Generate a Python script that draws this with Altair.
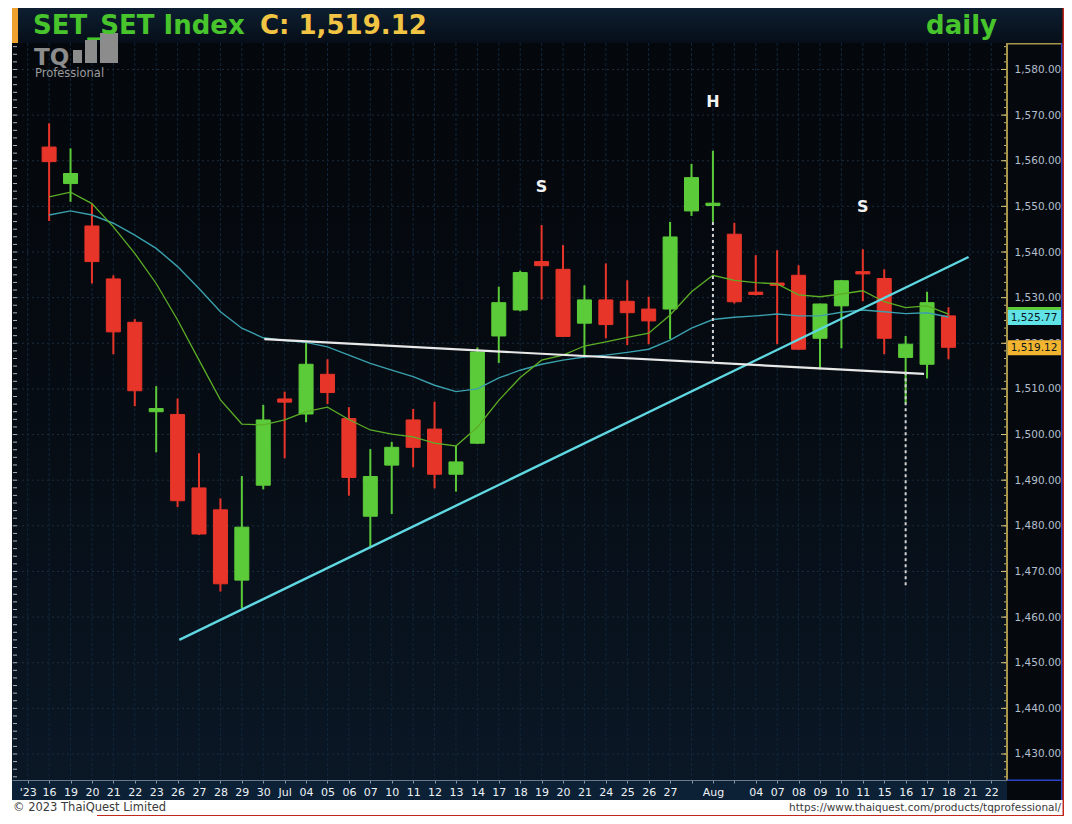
import json
import altair as alt
import pandas as pd

# ---------------- data ----------------
slot_labels = ["'23", "16", "19", "20", "21", "22", "23", "26", "27", "28", "29", "30",
               "Jul", "04", "05", "06", "07", "10", "11", "12", "13", "14", "17", "18",
               "19", "20", "21", "24", "25", "26", "27", "", "Aug", "", "04", "07", "08",
               "09", "10", "11", "15", "16", "17", "18", "21", "22"]
candle_slot = list(range(1, 44))
opens = [1563.0, 1555.0, 1545.7, 1534.1, 1524.6, 1505.0, 1504.4, 1488.3, 1483.5, 1468.1,
         1488.9, 1507.8, 1504.5, 1513.2, 1503.5, 1482.1, 1493.3, 1503.2, 1501.2, 1491.3,
         1498.1, 1521.6, 1527.3, 1537.9, 1536.2, 1524.4, 1529.5, 1529.2, 1527.5, 1527.5,
         1549.0, 1550.2, 1543.9, 1531.2, 1533.2, 1534.9, 1521.1, 1528.2, 1535.7, 1534.2,
         1516.9, 1515.4, 1526.0]
highs = [1568.2, 1562.7, 1550.6, 1534.9, 1525.3, 1510.6, 1507.9, 1495.9, 1486.0, 1490.9,
         1506.5, 1509.4, 1520.3, 1516.5, 1506.0, 1496.8, 1498.4, 1505.6, 1507.2, 1497.5,
         1519.1, 1532.4, 1535.9, 1545.9, 1541.5, 1532.7, 1537.5, 1533.8, 1530.2, 1546.6,
         1559.3, 1562.2, 1546.4, 1539.3, 1540.4, 1537.1, 1528.7, 1533.8, 1540.6, 1536.2,
         1521.6, 1531.3, 1527.9]
lows = [1546.8, 1551.0, 1533.1, 1517.6, 1506.2, 1496.1, 1484.1, 1478.0, 1465.6, 1461.9,
        1488.0, 1494.8, 1502.7, 1506.7, 1486.6, 1475.3, 1482.6, 1492.8, 1488.2, 1487.5,
        1498.0, 1515.7, 1527.0, 1529.6, 1521.4, 1516.9, 1521.1, 1519.6, 1519.8, 1520.9,
        1547.9, 1546.6, 1528.7, 1530.5, 1519.8, 1518.6, 1514.3, 1518.9, 1529.2, 1517.6,
        1506.8, 1512.3, 1516.5]
closes = [1559.8, 1557.2, 1537.9, 1522.5, 1509.6, 1505.7, 1485.5, 1478.2, 1467.3, 1479.7,
          1503.2, 1507.1, 1515.4, 1509.2, 1490.6, 1490.8, 1497.2, 1497.2, 1491.3, 1494.0,
          1518.1, 1528.9, 1535.5, 1537.0, 1521.5, 1529.5, 1524.1, 1526.7, 1524.9, 1543.3,
          1556.3, 1550.7, 1529.1, 1530.7, 1532.7, 1518.7, 1528.6, 1533.7, 1535.2, 1521.1,
          1519.8, 1528.9, 1519.12]
ma_fast = [1552.1, 1553.1, 1550.6, 1545.5, 1539.7, 1533.1, 1525.1, 1516.3, 1507.6, 1502.3,
           1502.1, 1503.2, 1505.0, 1506.0, 1503.3, 1501.0, 1500.1, 1499.5, 1498.1, 1497.5,
           1501.6, 1507.5, 1512.5, 1516.3, 1517.4, 1519.4, 1520.3, 1521.3, 1522.2, 1526.2,
           1531.3, 1534.9, 1533.8, 1533.3, 1533.0, 1530.6, 1530.2, 1530.8, 1531.5, 1529.1,
           1527.8, 1528.2, 1526.4]
ma_slow = [1548.1, 1549.0, 1548.1, 1546.3, 1543.7, 1540.8, 1536.8, 1532.0, 1526.9, 1523.3,
           1521.2, 1520.6, 1520.2, 1519.2, 1517.4, 1515.6, 1514.1, 1512.7, 1510.8, 1509.4,
           1510.0, 1512.4, 1514.1, 1515.4, 1516.3, 1517.0, 1517.4, 1518.0, 1518.7, 1520.7,
           1523.3, 1525.2, 1525.7, 1526.0, 1526.4, 1526.0, 1526.0, 1526.8, 1527.3, 1526.9,
           1526.5, 1526.7, 1525.77]
uptrend_slot = [7.08, 43.94]
uptrend_val = [1455.0, 1538.9]
neck_slot = [11.05, 41.86]
neck_val = [1520.9, 1513.3]
dash_slot = [32, 41]
dash_from = [1515.7, 1467.0]
dash_to = [1546.6, 1513.5]
pattern_slot = [24, 32, 39]
pattern_val = [1554.2, 1572.8, 1549.8]
pattern_text = ["S", "H", "S"]
price_ticks = list(range(1430, 1590, 10))

# ---------------- geometry / style ----------------
W, H = 995, 737
YMIN, YMAX = 1424.3, 1585.8
GREEN, RED = "#5ccb3a", "#e8352a"
FONT = "Open Sans"
DV = "DejaVu Sans"

x_scale = alt.Scale(domain=[-0.5, 45.5], nice=False, zero=False)
y_scale = alt.Scale(domain=[YMIN, YMAX], nice=False, zero=False)
x_axis = alt.Axis(values=list(range(len(slot_labels))),
                  labelExpr=json.dumps(slot_labels) + "[datum.value]",
                  labelColor="#eef2f6", labelFont=DV, labelFontSize=11,
                  labelPadding=3, labelFlush=False, labelOverlap=False, labelBound=False,
                  tickColor="#8a9aaa", tickSize=3, domainColor="#6a7a8a",
                  grid=False, title=None, zindex=1)
y_axis = alt.Axis(orient="right", values=price_ticks, format=",.2f",
                  labelColor="#b3bfcc", labelFont=DV, labelFontSize=10.5,
                  labelPadding=7, ticks=False, domain=False, grid=False, title=None)


def X(f):
    return alt.X(f, type="quantitative", scale=x_scale, axis=x_axis)


def Y(f):
    return alt.Y(f, type="quantitative", scale=y_scale, axis=y_axis)


def deco():
    return alt.Chart(pd.DataFrame({"k": [0]}))


def rect(x1, x2, y1, y2, **kw):
    return deco().mark_rect(**kw).encode(x=alt.value(x1), x2=alt.value(x2),
                                         y=alt.value(y1), y2=alt.value(y2))


def label(txt, x, y, **kw):
    return deco().mark_text(text=txt, **kw).encode(x=alt.value(x), y=alt.value(y))


# ---------------- tables ----------------
candles = pd.DataFrame({"slot": candle_slot, "open": opens, "high": highs,
                        "low": lows, "close": closes})
candles["dir"] = ["up" if c >= o else "down" for o, c in zip(opens, closes)]
ma_df = pd.DataFrame({"slot": candle_slot, "fast": ma_fast, "slow": ma_slow})
up_df = pd.DataFrame({"slot": uptrend_slot, "v": uptrend_val})
neck_df = pd.DataFrame({"slot": neck_slot, "v": neck_val})
dash_df = pd.DataFrame({"slot": dash_slot, "a": dash_from, "b": dash_to})
pat_df = pd.DataFrame({"slot": pattern_slot, "v": pattern_val, "t": pattern_text})
hgrid = pd.DataFrame({"v": price_ticks})
vgrid = pd.DataFrame({"s": list(range(len(slot_labels)))})
minor = [round(1430 + k * 10 / 6, 3) for k in range(-3, 95)]
minor = [m for m in minor if YMIN < m < YMAX]
minor_df = pd.DataFrame({"v": minor})
major_df = pd.DataFrame({"v": price_ticks})
badge_df = pd.DataFrame({
    "v": [ma_fast[-1], ma_slow[-1], closes[-1]],
    "c": [GREEN, "#5fe3e6", "#f3b52f"],
    "t": ["", f"{ma_slow[-1]:,.2f}", f"{closes[-1]:,.2f}"],
})

dir_scale = alt.Scale(domain=["up", "down"], range=[GREEN, RED])

# ---------------- layers ----------------
plot_bg = rect(0, W, 0, H, fill=alt.Gradient(
    gradient="linear", x1=0, x2=0, y1=0, y2=1,
    stops=[alt.GradientStop(color="#04070b", offset=0),
           alt.GradientStop(color="#060c13", offset=0.5),
           alt.GradientStop(color="#0a1725", offset=1)]))
title_bg = rect(0, W + 55, -35, 0, fill=alt.Gradient(
    gradient="linear", x1=0, x2=0, y1=0, y2=1,
    stops=[alt.GradientStop(color="#0d1f31", offset=0),
           alt.GradientStop(color="#060e18", offset=1)]))
xband = rect(0, W, H, H + 20, fill="#0c2136")

hg = alt.Chart(hgrid).mark_rule(color="#1c2d3d", strokeDash=[2, 3], strokeWidth=1).encode(
    y=Y("v"), x=alt.value(0), x2=alt.value(W))
vg = alt.Chart(vgrid).mark_rule(color="#11263a", strokeDash=[3, 2], strokeWidth=1).encode(
    x=X("s"), y=alt.value(0), y2=alt.value(H))
left_minor = alt.Chart(minor_df).mark_rule(color="#aab4be", strokeWidth=1).encode(
    y=Y("v"), x=alt.value(1), x2=alt.value(5))
right_minor = alt.Chart(minor_df).mark_rule(color="#c9b46a", strokeWidth=1).encode(
    y=Y("v"), x=alt.value(W - 3), x2=alt.value(W))
right_major = alt.Chart(major_df).mark_rule(color="#d8c47a", strokeWidth=1).encode(
    y=Y("v"), x=alt.value(W - 6), x2=alt.value(W))

logo = [
    label("TQ", 22, 22, align="left", baseline="alphabetic", font=DV,
          fontWeight="bold", fontSize=23, color="#8c8c8c"),
    rect(61, 70, 7, 20, fill="#8c8c8c"),
    rect(73, 85, -3, 20, fill="#8c8c8c"),
    rect(88, 106, -10, 20, fill="#8c8c8c"),
    label("Professional", 23, 34, align="left", baseline="alphabetic", font=DV,
          fontSize=11.5, color="#9c9c9c"),
]
titles = [
    label("SET_SET Index", 21, -9, align="left", baseline="alphabetic", font=DV,
          fontWeight="bold", fontSize=26, color="#48c42c"),
    label("C: 1,519.12", 248, -9, align="left", baseline="alphabetic", font=DV,
          fontWeight="bold", fontSize=26, color="#f2c443"),
    label("daily", 985, -9, align="right", baseline="alphabetic", font=DV,
          fontWeight="bold", fontSize=26, color="#48c42c"),
]

wicks = alt.Chart(candles).mark_rule(strokeWidth=2).encode(
    x=X("slot"), y=Y("low"), y2=alt.Y2("high"),
    color=alt.Color("dir:N", scale=dir_scale, legend=None))
bodies = alt.Chart(candles).mark_bar(size=14, strokeWidth=1).encode(
    x=X("slot"), y=Y("open"), y2=alt.Y2("close"),
    fill=alt.Fill("dir:N", scale=dir_scale, legend=None),
    stroke=alt.Stroke("dir:N", scale=dir_scale, legend=None))

ma_slow_line = alt.Chart(ma_df).mark_line(color="#3aa0ad", strokeWidth=1.4).encode(
    x=X("slot"), y=Y("slow"))
ma_fast_line = alt.Chart(ma_df).mark_line(color="#5cae26", strokeWidth=1.3).encode(
    x=X("slot"), y=Y("fast"))
up_line = alt.Chart(up_df).mark_line(color="#5fd8e2", strokeWidth=2.4).encode(
    x=X("slot"), y=Y("v"))
neck_line = alt.Chart(neck_df).mark_line(color="#e8e8e8", strokeWidth=2.2).encode(
    x=X("slot"), y=Y("v"))
dashes = alt.Chart(dash_df).mark_rule(color="#d4d4d4", strokeWidth=2, strokeDash=[3, 3]).encode(
    x=X("slot"), y=Y("a"), y2=alt.Y2("b"))
pattern = alt.Chart(pat_df).mark_text(font=DV, fontWeight="bold", fontSize=16,
                                      color="#f2f2f2").encode(
    x=X("slot"), y=Y("v"), text="t:N")

badges = alt.Chart(badge_df).mark_rect(yOffset=-7, y2Offset=8).encode(
    y=Y("v"), y2=alt.Y2("v"), x=alt.value(W + 1), x2=alt.value(W + 54),
    fill=alt.Fill("c:N", scale=None))
badge_text = alt.Chart(badge_df).mark_text(font=DV, fontSize=10.5, color="#0b1620",
                                           align="center", baseline="middle", dy=1).encode(
    y=Y("v"), x=alt.value(W + 27), text="t:N")

borders = [
    rect(W - 1, W + 1, 0, H, fill="#a8944a"),
    rect(W, W + 55, 0, 1.5, fill="#a8944a"),
    rect(W + 54, W + 55.5, 0, H + 20, fill="#2a44c8"),
    rect(W, W + 55, H - 0.5, H + 1, fill="#2a44c8"),
    rect(0, 6, -35, 0, fill="#f0a02c"),
]
frame = [
    rect(-4, W + 57, H + 20, H + 36, fill="#ffffff"),
    rect(-4, 0, -35, H + 36, fill="#ffffff"),
    rect(W + 55.5, W + 57, -35, H + 36, fill="#c0281e"),
    rect(85, W + 57, H + 35, H + 36, fill="#c0281e"),
    label("\u00a9 2023 ThaiQuest Limited", 1, H + 28, align="left", baseline="middle",
          font=DV, fontSize=11.5, color="#3a3a3a"),
    label("https://www.thaiquest.com/products/tqprofessional/", W + 54, H + 28,
          align="right", baseline="middle", font=DV, fontSize=10.5, color="#3a3a3a"),
]

chart = alt.layer(
    plot_bg, title_bg, xband, hg, vg, left_minor, right_minor, right_major,
    *logo, *titles,
    wicks, bodies, ma_slow_line, ma_fast_line, up_line, neck_line, dashes, pattern,
    badges, badge_text, *borders, *frame,
).properties(
    width=W, height=H,
    autosize=alt.AutoSizeParams(type="none"),
    padding={"left": 4, "top": 35, "right": 57, "bottom": 36},
).configure(background="#05090e").configure_view(stroke=None)

chart.save("out.html", embed_options={"renderer": "svg", "actions": False})
